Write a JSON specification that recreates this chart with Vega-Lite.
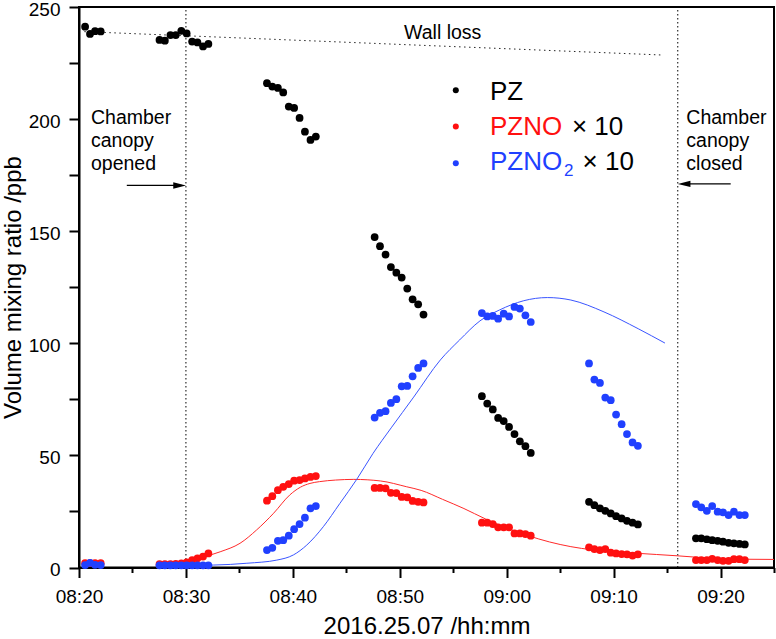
{
  "$schema": "https://vega.github.io/schema/vega-lite/v6.json",
  "autosize": "none",
  "width": 695,
  "height": 560.5,
  "padding": {"left": 79, "top": 7, "right": 2, "bottom": 71},
  "background": "white",
  "datasets": {
    "pz": [
      {"minute": 0.57, "v": 241.2}, {"minute": 1.03, "v": 238.0}, {"minute": 1.5, "v": 239.2}, {"minute": 2.03, "v": 239.1},
      {"minute": 7.53, "v": 235.3}, {"minute": 8.03, "v": 235.0}, {"minute": 8.55, "v": 237.5}, {"minute": 9.05, "v": 237.5}, {"minute": 9.57, "v": 239.4},
      {"minute": 10.07, "v": 238.2}, {"minute": 10.58, "v": 234.6}, {"minute": 11.08, "v": 234.2}, {"minute": 11.6, "v": 232.4}, {"minute": 12.1, "v": 233.5},
      {"minute": 17.58, "v": 216.0}, {"minute": 18.08, "v": 214.5}, {"minute": 18.6, "v": 213.9}, {"minute": 19.1, "v": 211.9}, {"minute": 19.62, "v": 205.6},
      {"minute": 20.12, "v": 205.0}, {"minute": 20.63, "v": 200.5}, {"minute": 21.13, "v": 194.4}, {"minute": 21.65, "v": 190.7}, {"minute": 22.15, "v": 192.2},
      {"minute": 27.65, "v": 147.4}, {"minute": 28.15, "v": 143.3}, {"minute": 28.67, "v": 139.6}, {"minute": 29.17, "v": 134.0}, {"minute": 29.68, "v": 131.5},
      {"minute": 30.18, "v": 129.3}, {"minute": 30.7, "v": 124.4}, {"minute": 31.2, "v": 119.6}, {"minute": 31.72, "v": 117.4}, {"minute": 32.22, "v": 112.8},
      {"minute": 37.68, "v": 76.4}, {"minute": 38.18, "v": 73.1}, {"minute": 38.7, "v": 70.5}, {"minute": 39.2, "v": 66.7}, {"minute": 39.72, "v": 65.3},
      {"minute": 40.22, "v": 62.7}, {"minute": 40.73, "v": 59.5}, {"minute": 41.23, "v": 56.3}, {"minute": 41.75, "v": 54.1}, {"minute": 42.25, "v": 51.1},
      {"minute": 47.7, "v": 29.3}, {"minute": 48.2, "v": 27.8}, {"minute": 48.72, "v": 26.4}, {"minute": 49.22, "v": 25.3}, {"minute": 49.73, "v": 24.1},
      {"minute": 50.23, "v": 22.9}, {"minute": 50.75, "v": 21.9}, {"minute": 51.25, "v": 20.8}, {"minute": 51.77, "v": 20.0}, {"minute": 52.27, "v": 19.2},
      {"minute": 57.7, "v": 13.0}, {"minute": 58.2, "v": 13.0}, {"minute": 58.72, "v": 12.6}, {"minute": 59.22, "v": 12.2}, {"minute": 59.73, "v": 11.9},
      {"minute": 60.23, "v": 11.5}, {"minute": 60.75, "v": 11.0}, {"minute": 61.25, "v": 10.8}, {"minute": 61.77, "v": 10.5}, {"minute": 62.27, "v": 10.3}
    ],
    "pzno": [
      {"minute": 0.57, "v": 1.9}, {"minute": 1.03, "v": 1.9}, {"minute": 1.5, "v": 1.9}, {"minute": 2.03, "v": 1.9},
      {"minute": 7.53, "v": 1.5}, {"minute": 8.03, "v": 1.5}, {"minute": 8.55, "v": 1.5}, {"minute": 9.05, "v": 1.6}, {"minute": 9.57, "v": 1.8},
      {"minute": 10.07, "v": 2.3}, {"minute": 10.58, "v": 3.3}, {"minute": 11.08, "v": 4.1}, {"minute": 11.6, "v": 4.9}, {"minute": 12.1, "v": 6.3},
      {"minute": 17.58, "v": 29.8}, {"minute": 18.08, "v": 31.8}, {"minute": 18.6, "v": 34.5}, {"minute": 19.1, "v": 36.0}, {"minute": 19.62, "v": 37.2},
      {"minute": 20.12, "v": 38.7}, {"minute": 20.63, "v": 39.0}, {"minute": 21.13, "v": 39.7}, {"minute": 21.65, "v": 40.4}, {"minute": 22.15, "v": 40.8},
      {"minute": 27.65, "v": 35.5}, {"minute": 28.15, "v": 35.5}, {"minute": 28.67, "v": 35.3}, {"minute": 29.17, "v": 33.3}, {"minute": 29.68, "v": 33.2},
      {"minute": 30.18, "v": 31.5}, {"minute": 30.7, "v": 31.3}, {"minute": 31.2, "v": 29.7}, {"minute": 31.72, "v": 29.3}, {"minute": 32.22, "v": 29.0},
      {"minute": 37.68, "v": 20.0}, {"minute": 38.18, "v": 20.0}, {"minute": 38.7, "v": 19.4}, {"minute": 39.2, "v": 17.9}, {"minute": 39.72, "v": 17.9},
      {"minute": 40.22, "v": 17.9}, {"minute": 40.73, "v": 15.2}, {"minute": 41.23, "v": 15.2}, {"minute": 41.75, "v": 14.9}, {"minute": 42.25, "v": 14.2},
      {"minute": 47.7, "v": 9.0}, {"minute": 48.2, "v": 8.2}, {"minute": 48.72, "v": 7.8}, {"minute": 49.22, "v": 8.2}, {"minute": 49.73, "v": 6.6},
      {"minute": 50.23, "v": 6.3}, {"minute": 50.75, "v": 6.0}, {"minute": 51.25, "v": 5.9}, {"minute": 51.77, "v": 5.3}, {"minute": 52.27, "v": 5.9},
      {"minute": 57.7, "v": 3.3}, {"minute": 58.2, "v": 3.3}, {"minute": 58.72, "v": 3.3}, {"minute": 59.22, "v": 3.9}, {"minute": 59.73, "v": 3.3},
      {"minute": 60.23, "v": 3.0}, {"minute": 60.75, "v": 3.0}, {"minute": 61.25, "v": 3.7}, {"minute": 61.77, "v": 3.7}, {"minute": 62.27, "v": 3.3}
    ],
    "pzno2": [
      {"minute": 0.57, "v": 1.1}, {"minute": 1.03, "v": 2.1}, {"minute": 1.5, "v": 1.2}, {"minute": 2.03, "v": 1.1},
      {"minute": 7.53, "v": 1.0}, {"minute": 8.03, "v": 1.0}, {"minute": 8.55, "v": 1.0}, {"minute": 9.05, "v": 1.0}, {"minute": 9.57, "v": 1.0},
      {"minute": 10.07, "v": 1.0}, {"minute": 10.58, "v": 1.0}, {"minute": 11.08, "v": 1.0}, {"minute": 11.6, "v": 1.0}, {"minute": 12.1, "v": 1.0},
      {"minute": 17.58, "v": 7.8}, {"minute": 18.08, "v": 8.8}, {"minute": 18.6, "v": 11.9}, {"minute": 19.1, "v": 12.2}, {"minute": 19.62, "v": 14.2},
      {"minute": 20.12, "v": 17.1}, {"minute": 20.63, "v": 19.4}, {"minute": 21.13, "v": 22.2}, {"minute": 21.65, "v": 26.4}, {"minute": 22.15, "v": 27.4},
      {"minute": 27.65, "v": 66.9}, {"minute": 28.15, "v": 69.0}, {"minute": 28.67, "v": 69.7}, {"minute": 29.17, "v": 73.4}, {"minute": 29.68, "v": 75.1},
      {"minute": 30.18, "v": 80.8}, {"minute": 30.7, "v": 81.0}, {"minute": 31.2, "v": 85.3}, {"minute": 31.72, "v": 89.0}, {"minute": 32.22, "v": 91.0},
      {"minute": 37.68, "v": 113.5}, {"minute": 38.18, "v": 112.0}, {"minute": 38.7, "v": 112.2}, {"minute": 39.2, "v": 111.0}, {"minute": 39.72, "v": 113.2},
      {"minute": 40.22, "v": 112.0}, {"minute": 40.73, "v": 116.2}, {"minute": 41.23, "v": 115.5}, {"minute": 41.75, "v": 112.5}, {"minute": 42.25, "v": 109.5},
      {"minute": 47.7, "v": 91.0}, {"minute": 48.2, "v": 83.8}, {"minute": 48.72, "v": 82.3}, {"minute": 49.22, "v": 75.8}, {"minute": 49.73, "v": 74.6},
      {"minute": 50.23, "v": 68.2}, {"minute": 50.75, "v": 63.9}, {"minute": 51.25, "v": 59.5}, {"minute": 51.77, "v": 55.8}, {"minute": 52.27, "v": 54.3},
      {"minute": 57.7, "v": 28.3}, {"minute": 58.2, "v": 26.8}, {"minute": 58.72, "v": 25.3}, {"minute": 59.22, "v": 27.4}, {"minute": 59.73, "v": 24.9},
      {"minute": 60.23, "v": 24.6}, {"minute": 60.75, "v": 23.4}, {"minute": 61.25, "v": 24.9}, {"minute": 61.77, "v": 23.4}, {"minute": 62.27, "v": 23.4}
    ],
    "fitNO": [
      {"minute": 9.45, "v": 1.1}, {"minute": 11.3, "v": 4.1}, {"minute": 13.2, "v": 7.0}, {"minute": 15.06, "v": 10.8}, {"minute": 16.6, "v": 16.7},
      {"minute": 18.2, "v": 24.2}, {"minute": 19.7, "v": 32.3}, {"minute": 20.7, "v": 35.8}, {"minute": 21.6, "v": 37.5}, {"minute": 22.5, "v": 38.3},
      {"minute": 24, "v": 39.0}, {"minute": 25.7, "v": 39.3}, {"minute": 28.2, "v": 38.6}, {"minute": 30.65, "v": 36.0}, {"minute": 32, "v": 34.4},
      {"minute": 34, "v": 30.4}, {"minute": 36, "v": 26.3}, {"minute": 38, "v": 21.7}, {"minute": 40, "v": 17.6}, {"minute": 42, "v": 14.2},
      {"minute": 44, "v": 11.4}, {"minute": 46, "v": 9.3}, {"minute": 48, "v": 7.9}, {"minute": 50, "v": 7.1}, {"minute": 52, "v": 6.4},
      {"minute": 54, "v": 5.8}, {"minute": 56, "v": 5.2}, {"minute": 58, "v": 4.5}, {"minute": 60, "v": 4.0}, {"minute": 62, "v": 3.7},
      {"minute": 65, "v": 3.6}
    ],
    "fitNO2": [
      {"minute": 9.45, "v": 1.0}, {"minute": 12.6, "v": 1.1}, {"minute": 15.7, "v": 1.9}, {"minute": 18.5, "v": 3.3}, {"minute": 20.05, "v": 5.6},
      {"minute": 21.3, "v": 10.0}, {"minute": 22.85, "v": 18.2}, {"minute": 24.4, "v": 28.6}, {"minute": 26, "v": 39.5}, {"minute": 27.5, "v": 50.9},
      {"minute": 29.2, "v": 62.3}, {"minute": 31.3, "v": 76.0}, {"minute": 33.8, "v": 92.6}, {"minute": 35.6, "v": 101.5}, {"minute": 37.5, "v": 110.0},
      {"minute": 39.3, "v": 114.8}, {"minute": 41.6, "v": 119.0}, {"minute": 43.8, "v": 120.4}, {"minute": 46, "v": 119.3}, {"minute": 49.1, "v": 114.0},
      {"minute": 52.3, "v": 106.5}, {"minute": 54.8, "v": 100.1}
    ],
    "wall": [{"minute": 0.5, "v": 239.0}, {"minute": 54.45, "v": 228.6}],
    "canopy": [{"minute": 10, "v": 0, "v2": 250}, {"minute": 56, "v": 0, "v2": 250}],
    "arrows": [{"minute": 4.47, "minute2": 9.6, "v": 170.4}, {"minute": 60.95, "minute2": 56.4, "v": 171.1}],
    "headR": [{"minute": 10.0, "v": 170.4}],
    "headL": [{"minute": 56.0, "v": 171.1}],
    "notes": [
      {"minute": 1.12, "v": 197.9, "label": "Chamber"}, {"minute": 1.12, "v": 187.5, "label": "canopy"}, {"minute": 1.12, "v": 177.4, "label": "opened"},
      {"minute": 56.8, "v": 197.9, "label": "Chamber"}, {"minute": 56.8, "v": 187.5, "label": "canopy"}, {"minute": 56.8, "v": 177.1, "label": "closed"},
      {"minute": 30.4, "v": 235.7, "label": "Wall loss"}
    ],
    "keyDots": [
      {"minute": 35.24, "v": 212.9, "s": "PZ"}, {"minute": 35.24, "v": 196.7, "s": "PZNO"}, {"minute": 35.24, "v": 180.3, "s": "PZNO2"}
    ],
    "keyBlack": [
      {"minute": 38.43, "v": 208.6, "label": "PZ"}, {"minute": 46.1, "v": 193.1, "label": "× 10"}, {"minute": 47.1, "v": 177.1, "label": "× 10"}
    ],
    "keyRed": [{"minute": 38.43, "v": 193.1, "label": "PZNO"}],
    "keyBlue": [{"minute": 38.43, "v": 177.1, "label": "PZNO"}],
    "keySub": [{"minute": 45.37, "v": 174.4, "label": "2"}]
  },
  "encoding": {
    "x": {
      "field": "minute",
      "type": "quantitative",
      "title": "2016.25.07 /hh:mm",
      "scale": {"domain": [0, 65], "nice": false, "zero": false},
      "axis": {
        "orient": "bottom",
        "values": [0, 10, 20, 30, 40, 50, 60],
        "labelExpr": "'0' + floor((500 + datum.value) / 60) + ':' + (((500 + datum.value) % 60) < 10 ? '0' : '') + ((500 + datum.value) % 60)",
        "tickSize": 10,
        "labelBaseline": "alphabetic",
        "labelPadding": 25,
        "titleX": 347.5,
        "titleY": 65.5,
        "titleBaseline": "alphabetic"
      }
    },
    "y": {
      "field": "v",
      "type": "quantitative",
      "title": "Volume mixing ratio /ppb",
      "scale": {"domain": [0, 250], "nice": false},
      "axis": {
        "values": [0, 25, 50, 75, 100, 125, 150, 175, 200, 225, 250],
        "labelExpr": "datum.value % 50 == 0 ? datum.label : ''",
        "tickSize": 10,
        "labelPadding": 9,
        "labelOffset": 2,
        "titleX": -59,
        "titleY": 280,
        "titleAngle": -90,
        "titleAlign": "center",
        "titleBaseline": "alphabetic"
      }
    }
  },
  "resolve": {"axis": {"x": "independent"}},
  "layer": [
    {
      "layer": [
        {
          "data": {"name": "canopy"},
          "mark": {"type": "rule", "color": "black", "strokeWidth": 1, "strokeDash": [1.5, 2.5]},
          "encoding": {"y2": {"field": "v2"}}
        },
        {
          "data": {"name": "wall"},
          "mark": {"type": "line", "color": "#222222", "strokeWidth": 1, "strokeDash": [1.5, 3.5]},
          "encoding": {}
        },
        {
          "data": {"name": "fitNO"},
          "mark": {"type": "line", "color": "#ff2a2a", "strokeWidth": 1, "interpolate": "monotone"},
          "encoding": {}
        },
        {
          "data": {"name": "fitNO2"},
          "mark": {"type": "line", "color": "#3a55ff", "strokeWidth": 1, "interpolate": "monotone"},
          "encoding": {}
        },
        {
          "data": {"name": "pz"},
          "mark": {"type": "point", "filled": true, "opacity": 1, "size": 60, "color": "black"},
          "encoding": {}
        },
        {
          "data": {"name": "pzno"},
          "mark": {"type": "point", "filled": true, "opacity": 1, "size": 60, "color": "#ff1010"},
          "encoding": {}
        },
        {
          "data": {"name": "pzno2"},
          "mark": {"type": "point", "filled": true, "opacity": 1, "size": 60, "color": "#2040ff"},
          "encoding": {}
        },
        {
          "data": {"name": "arrows"},
          "mark": {"type": "rule", "color": "black", "strokeWidth": 1.2},
          "encoding": {"x2": {"field": "minute2"}}
        },
        {
          "data": {"name": "headR"},
          "mark": {"type": "point", "shape": "M0,0L-2,-0.5L-2,0.5Z", "filled": true, "opacity": 1, "size": 160, "color": "black"},
          "encoding": {}
        },
        {
          "data": {"name": "headL"},
          "mark": {"type": "point", "shape": "M0,0L2,-0.5L2,0.5Z", "filled": true, "opacity": 1, "size": 160, "color": "black"},
          "encoding": {}
        },
        {
          "data": {"name": "notes"},
          "mark": {"type": "text", "align": "left", "baseline": "alphabetic", "fontSize": 19.5, "color": "black"},
          "encoding": {"text": {"field": "label"}}
        },
        {
          "data": {"name": "keyDots"},
          "mark": {"type": "point", "filled": true, "opacity": 1, "size": 36},
          "encoding": {
            "color": {
              "field": "s",
              "type": "nominal",
              "scale": {"domain": ["PZ", "PZNO", "PZNO2"], "range": ["black", "#ff1010", "#2040ff"]},
              "legend": null
            }
          }
        },
        {
          "data": {"name": "keyBlack"},
          "mark": {"type": "text", "align": "left", "baseline": "alphabetic", "fontSize": 26, "color": "black"},
          "encoding": {"text": {"field": "label"}}
        },
        {
          "data": {"name": "keyRed"},
          "mark": {"type": "text", "align": "left", "baseline": "alphabetic", "fontSize": 26, "color": "#ff1010"},
          "encoding": {"text": {"field": "label"}}
        },
        {
          "data": {"name": "keyBlue"},
          "mark": {"type": "text", "align": "left", "baseline": "alphabetic", "fontSize": 26, "color": "#2040ff"},
          "encoding": {"text": {"field": "label"}}
        },
        {
          "data": {"name": "keySub"},
          "mark": {"type": "text", "align": "left", "baseline": "alphabetic", "fontSize": 17, "color": "#2040ff"},
          "encoding": {"text": {"field": "label"}}
        }
      ]
    },
    {
      "data": {"name": "canopy"},
      "mark": {"type": "rule", "opacity": 0},
      "encoding": {
        "x": {
          "field": "minute",
          "type": "quantitative",
          "title": null,
          "axis": {
            "orient": "bottom",
            "values": [5, 15, 25, 35, 45, 55, 65],
            "tickSize": 5,
            "labels": false,
            "domain": false
          }
        },
        "y2": {"field": "v2"}
      }
    }
  ],
  "config": {
    "font": "Liberation Sans",
    "view": {"stroke": "black", "strokeWidth": 2},
    "axis": {
      "grid": false,
      "domainColor": "black",
      "domainWidth": 2,
      "tickColor": "black",
      "tickWidth": 2,
      "labelColor": "black",
      "labelFont": "Liberation Sans",
      "labelFontSize": 19,
      "labelFlush": false,
      "labelOverlap": false,
      "titleColor": "black",
      "titleFont": "Liberation Sans",
      "titleFontSize": 24,
      "titleFontWeight": "normal"
    }
  }
}
